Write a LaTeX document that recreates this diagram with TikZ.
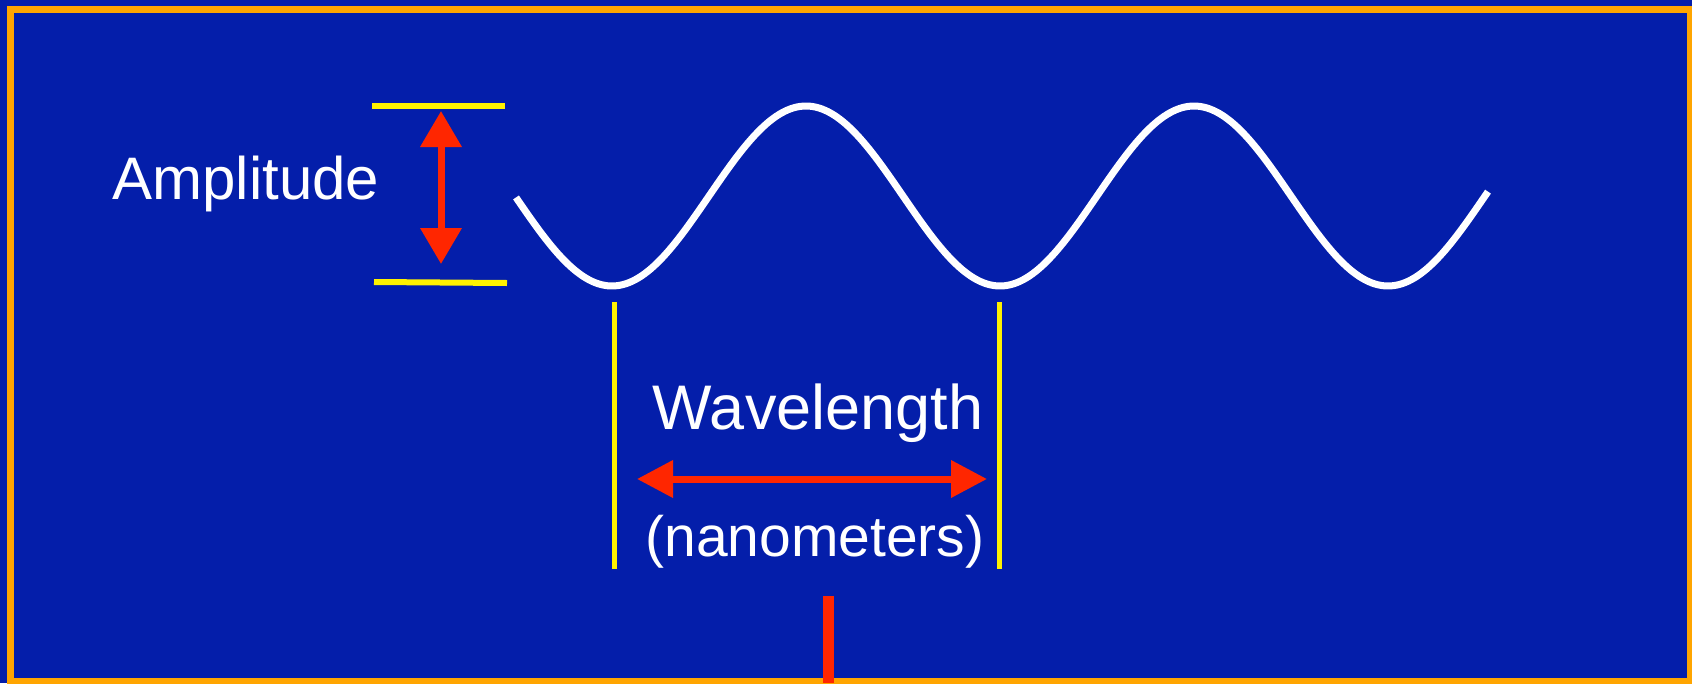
\documentclass[tikz,border=0pt]{standalone}
\usepackage{fontspec}
\setmainfont{Liberation Sans}
\usetikzlibrary{arrows.meta}
\definecolor{slideblue}{RGB}{4,30,170}
\definecolor{frameorange}{RGB}{255,165,0}
\definecolor{arrowred}{RGB}{255,38,0}
\tikzstyle{every node}=[inner sep=0pt, anchor=base, text=white, font={\fontsize{60}{66}\selectfont}]
\tikzstyle{marker}=[draw=yellow, line width=5pt]
\tikzstyle{span}=[draw=arrowred, line width=7pt, {Triangle[length=36pt,width=40pt]}-{Triangle[length=36pt,width=40pt]}]
\tikzstyle{wave}=[draw=white, line width=7pt, line join=round]
\begin{document}
\begin{tikzpicture}[x=1pt, y=-1pt]
    \useasboundingbox [fill=slideblue] (0,0) rectangle (1692,683);
    \draw [frameorange, line width=7pt] (10.5,9) rectangle (1690,681);
    % the wave
    \draw [wave] plot [domain=516:1488, samples=160, smooth] (\x, {196+90*cos((\x-612)/388*360)});
    % amplitude
    \node (amplitude) at (246,199) {Amplitude};
    \coordinate (amptopl) at (372,106);
    \coordinate (amptopr) at (505,106);
    \coordinate (ampbotl) at (374,282);
    \coordinate (ampbotr) at (507,283);
    \coordinate (amptip1) at (441,111);
    \coordinate (amptip2) at (441,264);
    \draw [marker, line width=6pt] (amptopl) -- (amptopr);
    \draw [marker, line width=6pt] (ampbotl) -- (ampbotr);
    \draw [span] (amptip1) -- (amptip2);
    % wavelength
    \node (wavelength) at (818,429) {\fontsize{63}{68}\selectfont Wavelength};
    \node (nanometers) at (815,556) {\fontsize{57}{62}\selectfont (nanometers)};
    \coordinate (waveltop) at (614,302);
    \coordinate (wavelbot) at (614,569);
    \coordinate (waverttop) at (999,302);
    \coordinate (wavertbot) at (999,569);
    \coordinate (wavetip1) at (637,479);
    \coordinate (wavetip2) at (987,479);
    \draw [marker] (waveltop) -- (wavelbot);
    \draw [marker] (waverttop) -- (wavertbot);
    \draw [span, {Triangle[length=36pt,width=36pt]}-{Triangle[length=36pt,width=36pt]}] (wavetip1) -- (wavetip2);
    % bar at the bottom
    \coordinate (bartop) at (828,596);
    \coordinate (barbot) at (828,683);
    \draw [arrowred, line width=11pt] (bartop) -- (barbot);
\end{tikzpicture}
\end{document}
